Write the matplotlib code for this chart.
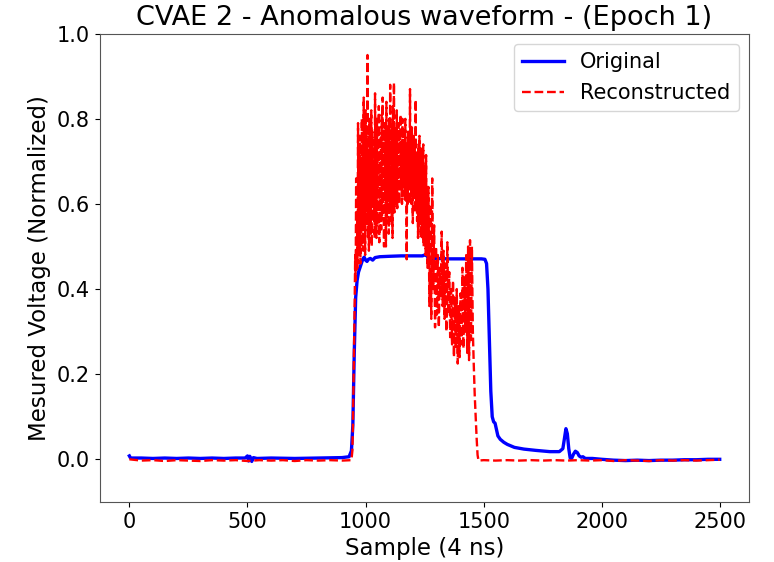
import numpy as np
import matplotlib
matplotlib.use("Agg")
import matplotlib.pyplot as plt

title = "CVAE 2 - Anomalous waveform - (Epoch 1)"
xlabel = "Sample (4 ns)"
ylabel = "Mesured Voltage (Normalized)"
legend_labels = ["Original", "Reconstructed"]
x_ticks = [0, 500, 1000, 1500, 2000, 2500]
y_ticks = [0.0, 0.2, 0.4, 0.6, 0.8, 1.0]

# Original waveform (sample index, normalized voltage)
orig_x = [0, 5, 50, 100, 150, 200, 250, 300, 350, 400, 450, 490, 500, 505, 510, 518, 525, 540,
          600, 700, 800, 900, 930, 940, 946, 952, 958, 964, 970, 976, 982, 988, 994, 1000, 1006,
          1012, 1020, 1030, 1040, 1060, 1100, 1150, 1200, 1240, 1250, 1258, 1265, 1272, 1300,
          1350, 1400, 1450, 1490, 1505, 1512, 1518, 1524, 1530, 1536, 1542, 1548, 1554, 1560,
          1570, 1585, 1600, 1630, 1670, 1720, 1780, 1820, 1835, 1842, 1848, 1854, 1860, 1866,
          1872, 1880, 1888, 1896, 1904, 1912, 1920, 1930, 1960, 2000, 2050, 2100, 2150, 2200,
          2250, 2300, 2350, 2400, 2450, 2499]
orig_y = [0.008, 0.003, 0.003, 0.002, 0.003, 0.002, 0.003, 0.002, 0.003, 0.002, 0.003, 0.003,
          0.008, -0.004, 0.007, -0.005, 0.004, 0.002, 0.003, 0.002, 0.003, 0.004, 0.006, 0.02,
          0.08, 0.25, 0.38, 0.42, 0.44, 0.45, 0.46, 0.47, 0.475, 0.468, 0.465, 0.47, 0.472,
          0.468, 0.474, 0.476, 0.477, 0.478, 0.478, 0.478, 0.48, 0.48, 0.472, 0.471, 0.472,
          0.471, 0.471, 0.471, 0.471, 0.47, 0.46, 0.40, 0.28, 0.16, 0.10, 0.088, 0.085, 0.07,
          0.055, 0.047, 0.04, 0.035, 0.028, 0.024, 0.021, 0.018, 0.018, 0.025, 0.05, 0.072,
          0.06, 0.025, 0.003, 0.002, 0.012, 0.019, 0.016, 0.008, 0.005, 0.006, 0.002, 0.002,
          0.0, -0.002, -0.003, -0.002, -0.003, -0.002, -0.002, -0.001, -0.001, 0.0, 0.0]

# Reconstructed waveform: flat part before the pulse
rec_pre_x = [0, 50, 100, 150, 200, 250, 300, 350, 400, 450, 500, 550, 600, 650, 700, 750,
             800, 850, 900, 940]
rec_pre_y = [0.0, -0.003, -0.002, -0.004, -0.002, -0.003, -0.004, -0.002, -0.003, -0.002,
             -0.004, -0.002, -0.003, -0.002, -0.004, -0.002, -0.003, -0.002, -0.003, -0.002]

# Reconstructed waveform: dense noisy part, one value every 2 samples from 944
rec_dense_start = 944
rec_dense_step = 2
rec_dense_y = [
    0.02, 0.07, 0.14, 0.22, 0.30, 0.38, 0.48, 0.42, 0.66, 0.44,
    0.58, 0.45, 0.79, 0.48, 0.72, 0.52, 0.76, 0.46, 0.69, 0.50,
    0.80, 0.54, 0.73, 0.49, 0.85, 0.57, 0.70, 0.48, 0.82, 0.60,
    0.76, 0.55, 0.95, 0.52, 0.72, 0.49, 0.80, 0.58, 0.74, 0.53,
    0.82, 0.50, 0.77, 0.61, 0.75, 0.56, 0.69, 0.52, 0.86, 0.59,
    0.73, 0.52, 0.80, 0.62, 0.77, 0.55, 0.83, 0.51, 0.70, 0.58,
    0.76, 0.54, 0.81, 0.57, 0.85, 0.60, 0.72, 0.50, 0.79, 0.63,
    0.74, 0.50, 0.84, 0.57, 0.78, 0.61, 0.72, 0.53, 0.80, 0.58,
    0.88, 0.60, 0.75, 0.55, 0.79, 0.52, 0.83, 0.62, 0.885, 0.58,
    0.77, 0.63, 0.73, 0.60, 0.82, 0.59, 0.76, 0.64, 0.79, 0.60,
    0.76, 0.63, 0.81, 0.66, 0.74, 0.60, 0.80, 0.62, 0.78, 0.64,
    0.75, 0.61, 0.80, 0.62, 0.73, 0.47, 0.74, 0.60, 0.77, 0.63,
    0.72, 0.60, 0.87, 0.64, 0.76, 0.60, 0.78, 0.62, 0.555, 0.70,
    0.76, 0.62, 0.73, 0.58, 0.845, 0.60, 0.70, 0.56, 0.72, 0.52,
    0.74, 0.55, 0.76, 0.58, 0.70, 0.52, 0.73, 0.55, 0.68, 0.52,
    0.74, 0.50, 0.66, 0.53, 0.69, 0.48, 0.715, 0.50, 0.64, 0.45]

# Reconstructed waveform: decaying noisy part, one value every 4 samples from 1266
rec_tail_start = 1266
rec_tail_step = 4
rec_tail_y = [
    0.64, 0.36, 0.60, 0.33, 0.66, 0.40, 0.55, 0.31, 0.50, 0.34, 0.48, 0.31, 0.45, 0.38,
    0.535, 0.36, 0.49, 0.33, 0.46, 0.30, 0.51, 0.34, 0.44, 0.287, 0.40, 0.27, 0.42, 0.24,
    0.38, 0.26, 0.40, 0.225, 0.36, 0.24, 0.39, 0.27, 0.45, 0.26, 0.43, 0.30, 0.48, 0.25,
    0.50, 0.233, 0.515, 0.28, 0.50, 0.30, 0.22, 0.15, 0.10, 0.05, 0.01, -0.003]

# Reconstructed waveform: flat part after the pulse
rec_post_x = [1500, 1550, 1600, 1650, 1700, 1750, 1800, 1850, 1900, 1950, 2000, 2050, 2100,
              2150, 2200, 2250, 2300, 2350, 2400, 2450, 2499]
rec_post_y = [-0.002, -0.003, -0.002, -0.003, -0.002, -0.003, -0.002, -0.003, -0.002, -0.003,
              -0.002, -0.004, -0.002, -0.003, -0.004, -0.002, -0.003, -0.002, -0.003, -0.002,
              -0.001]

rec_dense_x = [rec_dense_start + rec_dense_step * i for i in range(len(rec_dense_y))]
rec_tail_x = [rec_tail_start + rec_tail_step * i for i in range(len(rec_tail_y))]
rec_x = rec_pre_x + rec_dense_x + rec_tail_x + rec_post_x
rec_y = rec_pre_y + rec_dense_y + rec_tail_y + rec_post_y

fig = plt.figure(figsize=(7.74, 5.62), dpi=100)
ax = fig.add_axes([0.129, 0.107, 0.839, 0.833])
ax.plot(orig_x, orig_y, color="blue", lw=2.4, label=legend_labels[0])
ax.plot(rec_x, rec_y, color="red", lw=1.7, ls="--", label=legend_labels[1])
ax.set_ylim(-0.1, 1.0)
ax.set_xticks(x_ticks)
ax.set_yticks(y_ticks)
ax.tick_params(labelsize=15)
ax.set_title(title, fontsize=19.5)
ax.set_xlabel(xlabel, fontsize=16.5)
ax.set_ylabel(ylabel, fontsize=16.5)
for s in ax.spines.values():
    s.set_color("#555555")
ax.legend(fontsize=15, loc="upper right")
fig.savefig("out.png", dpi=100)
